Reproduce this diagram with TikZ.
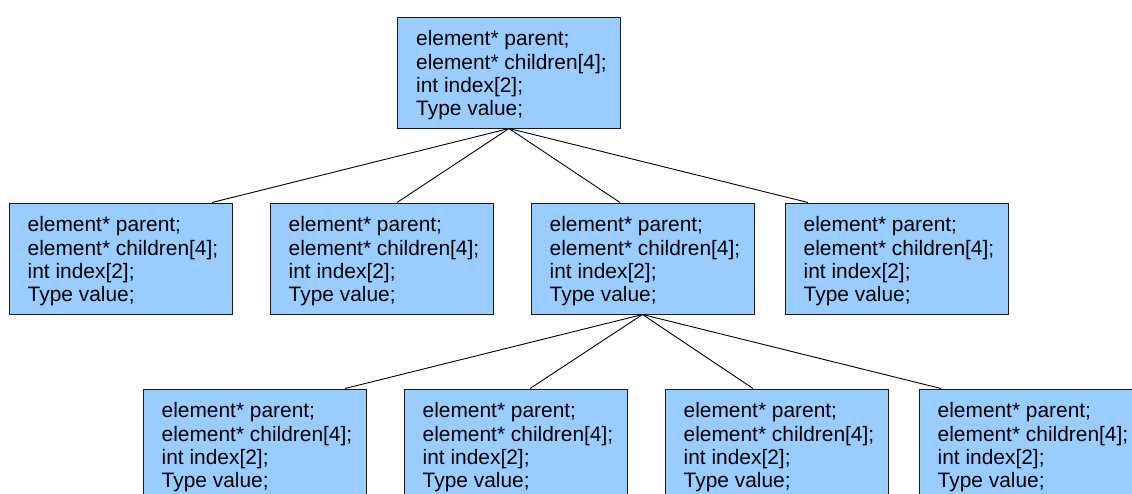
\documentclass[tikz,border=0pt]{standalone}
\usepackage{fontspec}
\setmainfont{Liberation Sans}
\definecolor{boxfill}{HTML}{99CCFF}
\definecolor{boxline}{HTML}{1A1A1A}
\tikzset{
  elem/.style={draw=boxline, line width=1pt, fill=boxfill, rectangle,
    minimum width=223pt, minimum height=111pt, inner sep=0pt},
  fields/.style={anchor=west, inner sep=0pt, align=left,
    font=\fontsize{20.9pt}{23.3pt}\selectfont},
  link/.style={draw=black, line width=0.9pt}
}
\newcommand{\elemtext}{element* parent;\\ element* children[4];\\ int index[2];\\ Type value;}
% a structure box with its four field lines
\newcommand{\elembox}[2]{%
  \node[elem] (#1) at (#2) {};
  \node[fields] (#1-txt) at ([xshift=19pt,yshift=-3pt]#1.west) {\elemtext};
}
\begin{document}
\begin{tikzpicture}[x=1pt, y=-1pt]
  \useasboundingbox (0,0) rectangle (1132,493);
  \clip (0,0) rectangle (1132,493);
  % root
  \elembox{root}{509,72.5}
  % second level
  \elembox{a1}{120.5,258.5}
  \elembox{a2}{381.5,258.5}
  \elembox{a3}{642.5,258.5}
  \elembox{a4}{896.5,258.5}
  % third level (children of a3)
  \elembox{b1}{254.5,444.5}
  \elembox{b2}{515.5,444.5}
  \elembox{b3}{776.5,444.5}
  \elembox{b4}{1030.5,444.5}
  % links from root
  \draw[link] (root.south) -- ([xshift=91.5pt]a1.north);
  \draw[link] (root.south) -- ([xshift=15.5pt]a2.north);
  \draw[link] (root.south) -- ([xshift=-22.5pt]a3.north);
  \draw[link] (root.south) -- ([xshift=-88.5pt]a4.north);
  % links from a3
  \draw[link] (a3.south) -- ([xshift=90.5pt]b1.north);
  \draw[link] (a3.south) -- ([xshift=14.5pt]b2.north);
  \draw[link] (a3.south) -- ([xshift=-23.5pt]b3.north);
  \draw[link] (a3.south) -- ([xshift=-89.5pt]b4.north);
\end{tikzpicture}
\end{document}
